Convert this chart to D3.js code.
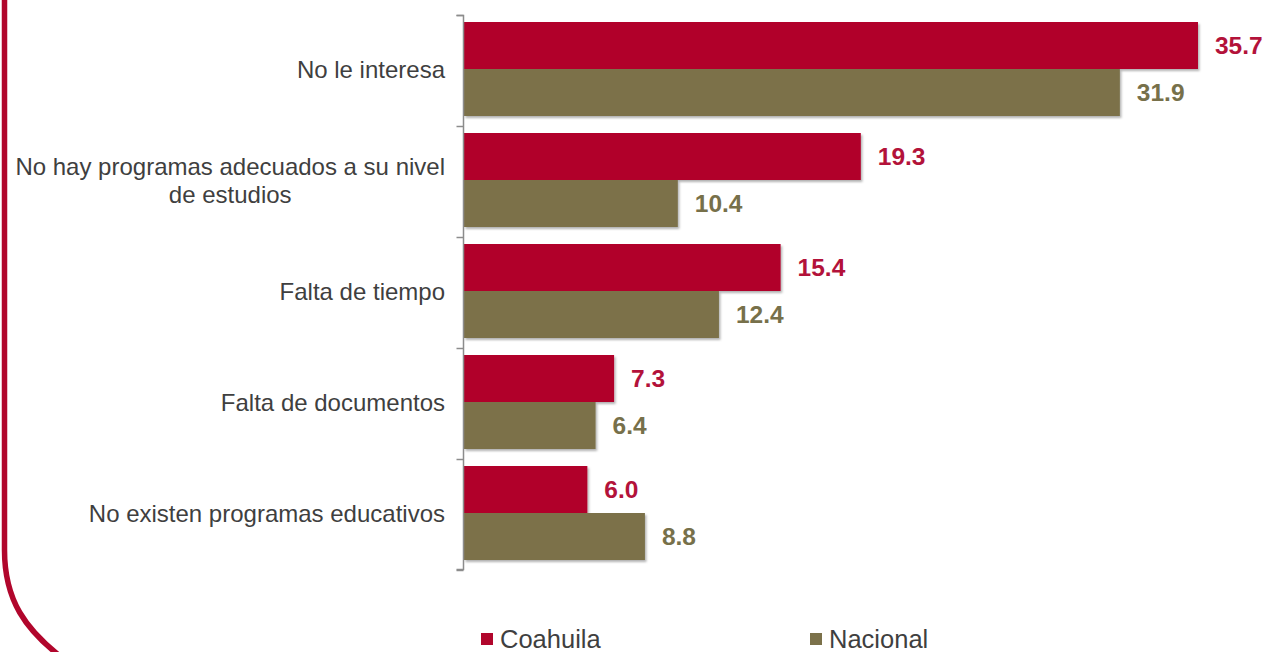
<!DOCTYPE html>
<html>
<head>
<meta charset="utf-8">
<script src="https://cdn.jsdelivr.net/npm/d3@7"></script>
<style>
  html, body { margin: 0; padding: 0; background: #fff; }
  svg { display: block; font-family: "Liberation Sans", Arial, sans-serif; }
</style>
</head>
<body>
<svg id="chart" width="1265" height="652"></svg>
<script>
// Motivos por los que no asiste a programas educativos (%)
const categories = [
  "No le interesa",
  "No hay programas adecuados a su nivel de estudios",
  "Falta de tiempo",
  "Falta de documentos",
  "No existen programas educativos"
];
const categoryLines = [
  ["No le interesa"],
  ["No hay programas adecuados a su nivel", "de estudios"],
  ["Falta de tiempo"],
  ["Falta de documentos"],
  ["No existen programas educativos"]
];
const seriesNames = ["Coahuila", "Nacional"];
const coahuila = [35.7, 19.3, 15.4, 7.3, 6.0];
const nacional = [31.9, 10.4, 12.4, 6.4, 8.8];
const seriesColors = ["#b1062c", "#7b714a"];
const labelColors = ["#b3123a", "#77704a"];

const svg = d3.select("#chart");
const defs = svg.append("defs");
const shadow = defs.append("filter").attr("id", "barShadow")
  .attr("x", "-5%").attr("y", "-20%").attr("width", "115%").attr("height", "150%");
shadow.append("feDropShadow").attr("dx", 1.5).attr("dy", 2).attr("stdDeviation", 1.2)
  .attr("flood-color", "#000").attr("flood-opacity", 0.3);

// decorative frame on the left with rounded bottom corner
svg.append("path")
  .attr("d", "M4.5,-5 V550 C4.5,600 25,630 65,660")
  .attr("fill", "none").attr("stroke", "#b1062c").attr("stroke-width", 5.5);

const x0 = 464;
const x = d3.scaleLinear().domain([0, 40]).range([x0, x0 + 822.4]);
const y = d3.scaleBand().domain(categories).range([15, 570]).paddingInner(0).paddingOuter(0);
const ySub = d3.scaleBand().domain(seriesNames).range([7, 101]);

const rows = categories.map((c, i) => ({ c, i, vals: [coahuila[i], nacional[i]] }));

// bars with value labels
const g = svg.append("g");
rows.forEach(r => {
  r.vals.forEach((v, k) => {
    const s = seriesNames[k];
    g.append("rect")
      .attr("x", x(0))
      .attr("y", y(r.c) + ySub(s))
      .attr("width", x(v) - x(0))
      .attr("height", ySub.bandwidth())
      .attr("fill", seriesColors[k])
      .attr("filter", "url(#barShadow)");
    g.append("text")
      .attr("x", x(v) + 17)
      .attr("y", y(r.c) + ySub(s) + ySub.bandwidth() / 2)
      .attr("dy", "0.36em")
      .attr("font-size", 24.5)
      .attr("font-weight", "bold")
      .attr("fill", labelColors[k])
      .text(v.toFixed(1));
  });
});

// category axis
const axis = d3.axisLeft(y).tickSize(0).tickFormat("");
const ax = svg.append("g").attr("transform", `translate(${x0 - 0.5},0)`).call(axis);
ax.select(".domain").attr("stroke", "#8c8c8c").attr("stroke-width", 1.5)
  .attr("d", `M-7,15.5H0V569.5H-7`);
const boundaries = categories.map(c => y(c)).concat([y.range()[1]]);
ax.selectAll(".bound").data(boundaries).join("line")
  .attr("class", "bound")
  .attr("x1", -7).attr("x2", 0)
  .attr("y1", d => Math.round(d) + 0.5).attr("y2", d => Math.round(d) + 0.5)
  .attr("stroke", "#8c8c8c").attr("stroke-width", 1.5);

// category labels (multi-line, centred within a right-aligned block)
const labelRight = 445;
const lineH = 28;
rows.forEach(r => {
  const lines = categoryLines[r.i];
  const cy = y(r.c) + y.bandwidth() / 2;
  const t = svg.append("text")
    .attr("font-size", 24)
    .attr("fill", "#3f3f3f")
    .attr("text-anchor", "middle");
  lines.forEach((ln, j) => {
    t.append("tspan")
      .attr("y", cy + (j - (lines.length - 1) / 2) * lineH - 1)
      .attr("dy", "0.36em")
      .text(ln);
  });
  let maxW = 0;
  t.selectAll("tspan").each(function () { maxW = Math.max(maxW, this.getComputedTextLength()); });
  t.selectAll("tspan").attr("x", labelRight - maxW / 2);
});

// legend
const legendX = [481, 810];
seriesNames.forEach((s, k) => {
  svg.append("rect")
    .attr("x", legendX[k]).attr("y", 633)
    .attr("width", 12).attr("height", 12)
    .attr("fill", seriesColors[k]);
  svg.append("text")
    .attr("x", legendX[k] + 19).attr("y", 648)
    .attr("font-size", 25.5)
    .attr("fill", "#3f3f3f")
    .text(s);
});
</script>
</body>
</html>
